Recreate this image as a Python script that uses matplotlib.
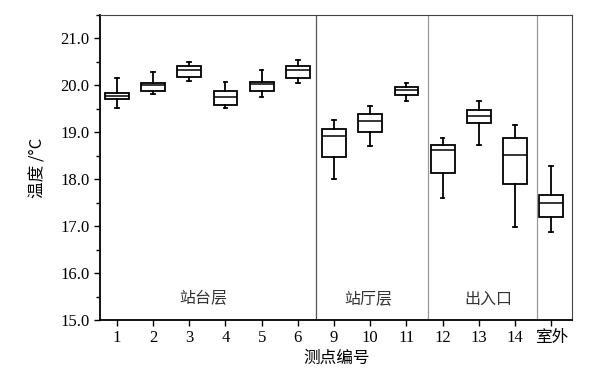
import matplotlib
matplotlib.use("Agg")
import matplotlib.pyplot as plt
from matplotlib.ticker import MultipleLocator, FormatStrFormatter

plt.rcParams["font.family"] = ["Liberation Serif", "Noto Sans CJK SC"]

# -------------------------
# data
# -------------------------

point_labels = ["1", "2", "3", "4", "5", "6", "9", "10", "11", "12", "13", "14", "室外"]

whisker_low = [19.51, 19.82, 20.10, 19.51, 19.75, 20.05, 18.00, 18.71, 19.67, 17.59, 18.73, 16.98, 16.88]
q1 = [19.70, 19.87, 20.17, 19.58, 19.87, 20.15, 18.47, 19.00, 19.80, 18.13, 19.19, 17.90, 17.20]
median = [19.77, 20.00, 20.33, 19.75, 20.02, 20.33, 18.92, 19.24, 19.90, 18.62, 19.34, 18.52, 17.49]
q3 = [19.83, 20.05, 20.41, 19.88, 20.07, 20.41, 19.06, 19.39, 19.96, 18.72, 19.47, 18.87, 17.67]
whisker_high = [20.15, 20.28, 20.49, 20.08, 20.32, 20.53, 19.26, 19.56, 20.05, 18.87, 19.66, 19.16, 18.28]

group_names = ["站台层", "站厅层", "出入口"]
group_centers = [2.4, 6.95, 10.25]
separators = [5.5, 8.6, 11.61]
separator_colors = ["#555555", "#999999", "#999999"]

# -------------------------
# layout
# -------------------------

fig = plt.figure(figsize=(5.98, 3.73), dpi=100)
ax = fig.add_axes([0.167, 0.142, 0.790, 0.818])

stats = []
for i in range(len(point_labels)):
    stats.append({
        "whislo": whisker_low[i],
        "q1": q1[i],
        "med": median[i],
        "q3": q3[i],
        "whishi": whisker_high[i],
        "fliers": [],
    })

positions = list(range(len(point_labels)))

ax.bxp(
    stats,
    positions=positions,
    widths=0.66,
    patch_artist=True,
    showfliers=False,
    boxprops=dict(facecolor="white", edgecolor="black", linewidth=1.3),
    medianprops=dict(color="black", linewidth=1.1),
    whiskerprops=dict(color="black", linewidth=1.3),
    capprops=dict(color="black", linewidth=1.3),
    capwidths=0.1,
)

for x, c in zip(separators, separator_colors):
    ax.axvline(x, color=c, linewidth=0.9)

for name, x in zip(group_names, group_centers):
    ax.text(x, 15.45, name, ha="center", va="center",
            fontsize=11.5, color="#333333", family="Noto Sans CJK SC")

# -------------------------
# axes
# -------------------------

ax.set_xlim(-0.47, 12.58)
ax.set_ylim(15.0, 21.5)
ax.set_xticks(positions)
ax.set_xticklabels(point_labels, fontsize=12)
ax.yaxis.set_major_locator(MultipleLocator(1.0))
ax.yaxis.set_minor_locator(MultipleLocator(0.5))
ax.yaxis.set_major_formatter(FormatStrFormatter("%.1f"))
ax.tick_params(axis="y", labelsize=12, direction="out", length=4, width=1)
ax.tick_params(axis="y", which="minor", direction="out", length=3, width=1)
ax.tick_params(axis="x", direction="out", length=4, width=1, pad=3)

for side in ["left", "bottom"]:
    ax.spines[side].set_linewidth(1.3)
for side in ["top", "right"]:
    ax.spines[side].set_linewidth(0.8)
    ax.spines[side].set_color("#444444")

ax.set_ylabel("温度 /°C", fontsize=12, family=["Noto Sans CJK SC"], labelpad=10)
ax.set_xlabel("测点编号", fontsize=12, family=["Noto Sans CJK SC"], labelpad=3)

fig.savefig("out.png", dpi=100)
